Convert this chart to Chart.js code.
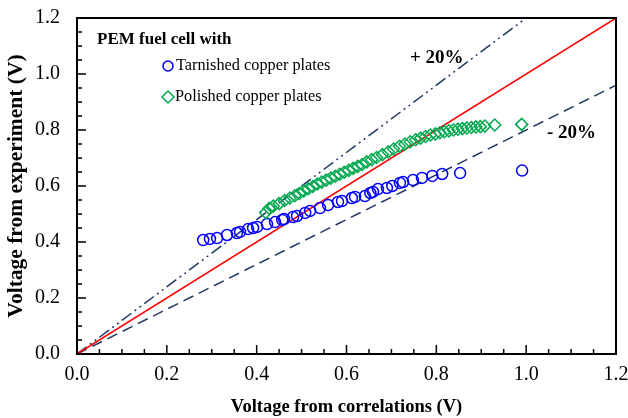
<!DOCTYPE html>
<html>
<head>
<meta charset="utf-8">
<script src="https://cdn.jsdelivr.net/npm/chart.js@4.4.0/dist/chart.umd.min.js"></script>
<style>
html,body{margin:0;padding:0;background:#fff;}
#wrap{width:628px;height:418px;}
</style>
</head>
<body>
<div id="wrap"><canvas id="c" width="628" height="418"></canvas></div>
<script>
// ---- data ----
const tarnishedX = [0.281,0.296,0.312,0.334,0.356,0.363,0.381,0.392,0.401,0.423,0.441,0.457,0.461,0.481,0.490,0.508,0.519,0.541,0.559,0.581,0.590,0.612,0.619,0.641,0.653,0.659,0.670,0.690,0.702,0.719,0.726,0.748,0.768,0.791,0.813,0.853,0.991];
const tarnishedY = [0.407,0.411,0.414,0.425,0.432,0.436,0.446,0.450,0.454,0.464,0.471,0.479,0.482,0.489,0.493,0.504,0.511,0.521,0.532,0.543,0.546,0.557,0.561,0.564,0.575,0.579,0.589,0.593,0.600,0.611,0.614,0.621,0.629,0.636,0.643,0.646,0.655];
const polishedX = [0.420,0.428,0.437,0.450,0.462,0.474,0.485,0.495,0.505,0.515,0.525,0.535,0.545,0.555,0.565,0.575,0.585,0.595,0.605,0.615,0.625,0.635,0.645,0.656,0.667,0.680,0.693,0.705,0.718,0.730,0.742,0.754,0.765,0.776,0.787,0.798,0.808,0.818,0.828,0.838,0.848,0.858,0.868,0.878,0.888,0.898,0.908,0.930,0.990];
const polishedY = [0.505,0.520,0.528,0.537,0.548,0.557,0.565,0.573,0.582,0.590,0.598,0.607,0.614,0.621,0.628,0.635,0.642,0.649,0.656,0.663,0.670,0.677,0.686,0.694,0.702,0.712,0.722,0.732,0.742,0.750,0.758,0.765,0.771,0.777,0.782,0.786,0.790,0.794,0.797,0.800,0.803,0.805,0.807,0.809,0.811,0.812,0.814,0.818,0.820];
const parityX = [0, 1.2];
const parityY = [0, 1.2];
const plus20X = [0, 1.0];
const plus20Y = [0, 1.2];
const minus20X = [0, 1.2];
const minus20Y = [0, 0.96];
const tickValues = [0.0, 0.2, 0.4, 0.6, 0.8, 1.0, 1.2];
const seriesNames = ["Tarnished copper plates", "Polished copper plates"];
const legendTitle = "PEM fuel cell with";
const xTitle = "Voltage from correlations (V)";
const yTitle = "Voltage from experiment (V)";

const pts = (xs, ys) => xs.map((x, i) => ({x: x, y: ys[i]}));
const FONT = "'Liberation Serif', 'Times New Roman', serif";

const framePlugin = {
  id: 'frame',
  afterDatasetsDraw(chart) {
    const ctx = chart.ctx;
    const a = chart.chartArea;
    const xs = chart.scales.x, ys = chart.scales.y;
    ctx.save();
    ctx.strokeStyle = '#000';
    ctx.lineWidth = 2;
    ctx.strokeRect(a.left, a.top, a.right - a.left, a.bottom - a.top);
    ctx.lineWidth = 1.5;
    for (let k = 0; k <= 24; k++) {
      const v = k * 0.05;
      const major = (k % 4 === 0);
      const len = major ? 9 : 5;
      const px = xs.getPixelForValue(v);
      ctx.beginPath(); ctx.moveTo(px, a.bottom); ctx.lineTo(px, a.bottom - len); ctx.stroke();
      const py = ys.getPixelForValue(v);
      ctx.beginPath(); ctx.moveTo(a.left, py); ctx.lineTo(a.left + len, py); ctx.stroke();
    }
    ctx.fillStyle = '#000';
    ctx.textBaseline = 'middle';
    ctx.textAlign = 'left';
    ctx.font = 'bold 17px ' + FONT;
    ctx.fillText(legendTitle, 97, 40);
    ctx.font = '16.3px ' + FONT;
    ctx.strokeStyle = '#0000FF'; ctx.lineWidth = 1.5;
    ctx.beginPath(); ctx.arc(168, 66, 5, 0, Math.PI * 2); ctx.stroke();
    ctx.fillText(seriesNames[0], 176, 66);
    ctx.strokeStyle = '#00A84F';
    ctx.beginPath();
    ctx.moveTo(168, 91); ctx.lineTo(174, 97); ctx.lineTo(168, 103); ctx.lineTo(162, 97); ctx.closePath(); ctx.stroke();
    ctx.fillText(seriesNames[1], 175, 97);
    ctx.font = 'bold 19px ' + FONT;
    ctx.fillText('+ 20%', 410, 58);
    ctx.fillText('- 20%', 547, 133);
    ctx.restore();
  }
};

new Chart(document.getElementById('c'), {
  type: 'scatter',
  data: {
    datasets: [
      {label: 'parity', type: 'line', data: pts(parityX, parityY), borderColor: '#FF0000', borderWidth: 1.5, pointRadius: 0, fill: false, order: 5},
      {label: '+20%', type: 'line', data: pts(plus20X, plus20Y), borderColor: '#1F3864', borderWidth: 1.5, borderDash: [12, 4, 2, 4, 2, 4], pointRadius: 0, fill: false, order: 5},
      {label: '-20%', type: 'line', data: pts(minus20X, minus20Y), borderColor: '#1F3864', borderWidth: 1.5, borderDash: [11, 6], pointRadius: 0, fill: false, order: 5},
      {label: seriesNames[0], data: pts(tarnishedX, tarnishedY), pointStyle: 'circle', pointRadius: 5.5, borderColor: '#0000FF', backgroundColor: 'rgba(0,0,0,0)', borderWidth: 1.5, order: 2},
      {label: seriesNames[1], data: pts(polishedX, polishedY), pointStyle: 'rectRot', pointRadius: 6, borderColor: '#00A84F', backgroundColor: 'rgba(0,0,0,0)', borderWidth: 1.5, order: 1}
    ]
  },
  options: {
    responsive: false,
    animation: false,
    devicePixelRatio: 1,
    layout: {padding: {left: 0, right: 12, top: 18, bottom: 0}},
    plugins: {legend: {display: false}, tooltip: {enabled: false}},
    scales: {
      x: {
        type: 'linear', min: 0, max: 1.2,
        afterBuildTicks: (s) => { s.ticks = tickValues.map(v => ({value: v})); },
        afterFit: (s) => { s.height = 64; s.paddingLeft = 0; s.paddingRight = 0; },
        grid: {display: false, drawTicks: false},
        border: {display: true, color: '#000', width: 2},
        ticks: {padding: 9, color: '#000', font: {family: FONT, size: 20}, callback: (v) => Number(v).toFixed(1)},
        title: {display: true, text: xTitle, color: '#000', font: {family: FONT, size: 18.5, weight: 'bold'}, padding: {top: 0, bottom: 0}}
      },
      y: {
        type: 'linear', min: 0, max: 1.2,
        afterBuildTicks: (s) => { s.ticks = tickValues.map(v => ({value: v})); },
        afterFit: (s) => { s.width = 77; s.paddingTop = 0; s.paddingBottom = 0; },
        grid: {display: false, drawTicks: false},
        border: {display: true, color: '#000', width: 2},
        ticks: {padding: 17, color: '#000', font: {family: FONT, size: 20}, callback: (v) => Number(v).toFixed(1)},
        title: {display: true, text: yTitle, color: '#000', font: {family: FONT, size: 21.5, weight: 'bold'}, padding: {top: 4, bottom: 2}}
      }
    }
  },
  plugins: [framePlugin]
});
</script>
</body>
</html>
